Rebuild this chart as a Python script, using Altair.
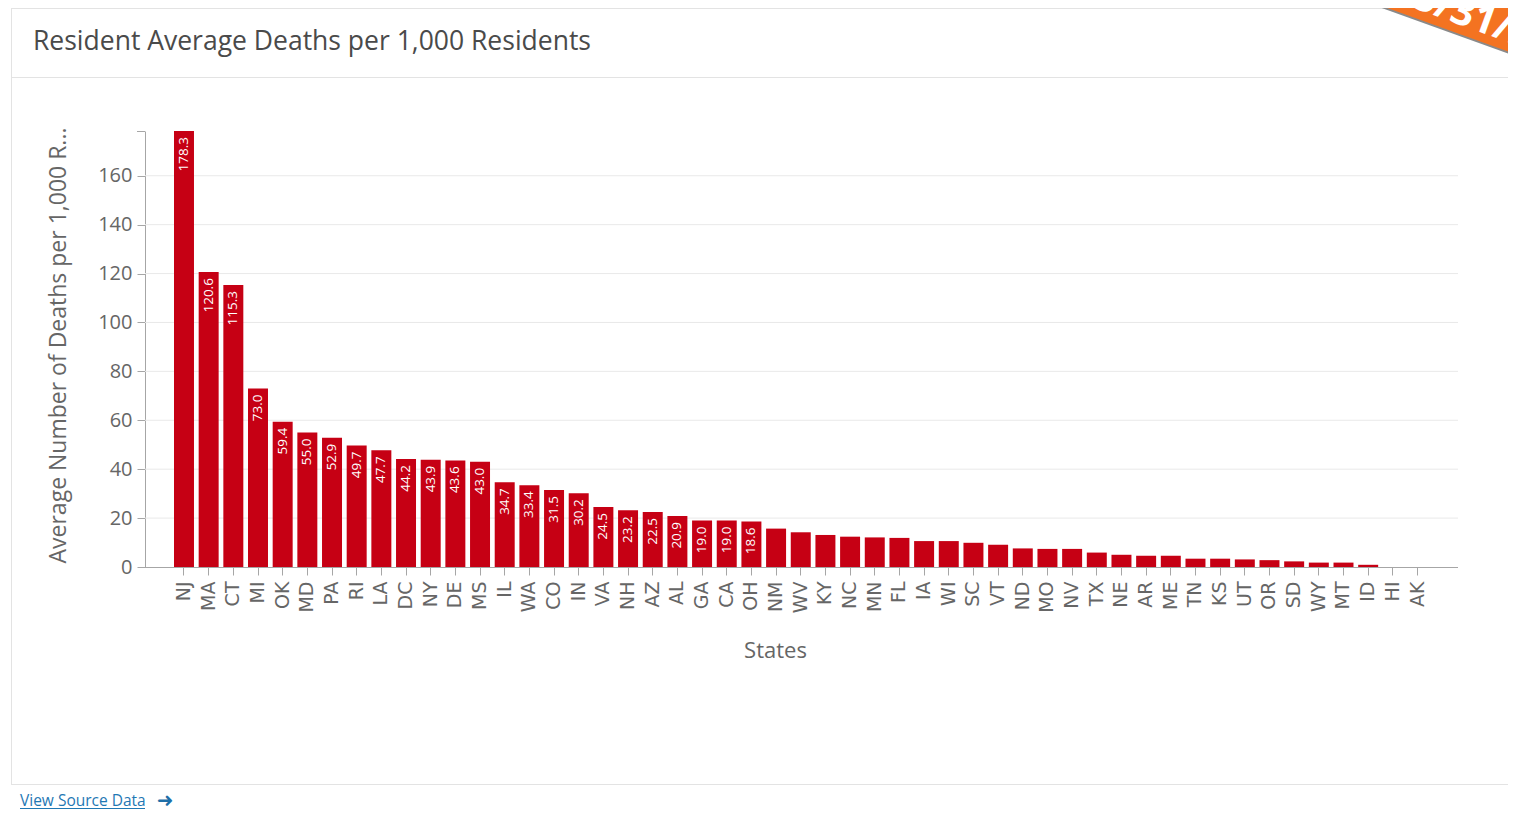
import altair as alt
import pandas as pd

states = ["NJ", "MA", "CT", "MI", "OK", "MD", "PA", "RI", "LA", "DC",
          "NY", "DE", "MS", "IL", "WA", "CO", "IN", "VA", "NH", "AZ",
          "AL", "GA", "CA", "OH", "NM", "WV", "KY", "NC", "MN", "FL",
          "IA", "WI", "SC", "VT", "ND", "MO", "NV", "TX", "NE", "AR",
          "ME", "TN", "KS", "UT", "OR", "SD", "WY", "MT", "ID", "HI", "AK"]
values = [178.3, 120.6, 115.3, 73.0, 59.4, 55.0, 52.9, 49.7, 47.7, 44.2,
          43.9, 43.6, 43.0, 34.7, 33.4, 31.5, 30.2, 24.5, 23.2, 22.5,
          20.9, 19.0, 19.0, 18.6, 15.7, 14.2, 13.1, 12.4, 12.1, 11.9,
          10.6, 10.6, 9.9, 9.1, 7.6, 7.4, 7.4, 5.9, 5.0, 4.6,
          4.6, 3.4, 3.4, 3.1, 2.8, 2.3, 1.8, 1.8, 0.9, 0.0, 0.0]
y_ticks = [0, 20, 40, 60, 80, 100, 120, 140, 160]

chart_title = "Resident Average Deaths per 1,000 Residents"
y_title = "Average Number of Deaths per 1,000 R..."
x_title = "States"
link_text = "View Source Data"
banner_text = "5/31/2020"

df = pd.DataFrame({"State": states, "Value": values})
grid_df = pd.DataFrame({"tick": y_ticks[1:]})
one = pd.DataFrame({"k": [0]})

BAR = "#c60014"
FONT = "Open Sans"
AXIS = "#a6a6a6"
W, H = 1313, 436

x_enc = alt.X("State:N", sort=None,
              scale=alt.Scale(paddingInner=0.19, paddingOuter=0, range=[29, 1282.5]),
              axis=alt.Axis(title=x_title, labelAngle=270, labelFont="DejaVu Sans",
                            labelFontSize=19, labelColor="#666666", labelPadding=6,
                            tickSize=8, tickColor=AXIS, domain=False,
                            titleFont=FONT, titleFontSize=22, titleColor="#666666",
                            titleFontWeight="normal", titleX=630, titleY=90,
                            titleAlign="center", titleBaseline="alphabetic"))
y_enc = alt.Y("Value:Q", scale=alt.Scale(domain=[0, 178.3], nice=False, zero=True),
              axis=alt.Axis(title=y_title, values=y_ticks, labelFont=FONT, labelFontSize=20,
                            labelColor="#666666", labelPadding=5, tickSize=8,
                            tickColor=AXIS, domainColor=AXIS, grid=False,
                            titleFont=FONT, titleFontSize=23,
                            titleColor="#666666", titleFontWeight="normal",
                            titleAngle=270, titleX=-80, titleY=214, titleAlign="center",
                            titleBaseline="alphabetic"))

# horizontal gridlines across the full plot width
grid = alt.Chart(grid_df).mark_rule(color="#e9e9e9", strokeWidth=1).encode(
    y=alt.Y("tick:Q", scale=alt.Scale(domain=[0, 178.3], nice=False, zero=True)),
    x=alt.value(0), x2=alt.value(W))

bars = alt.Chart(df).mark_bar(color=BAR).encode(x=x_enc, y=y_enc)

labels = alt.Chart(df).transform_filter("datum.Value >= 18").mark_text(
    angle=270, align="right", baseline="middle", dx=-6, color="white",
    font=FONT, fontSize=13.5
).encode(x=alt.X("State:N", sort=None), y="Value:Q", text=alt.Text("Value:Q", format=".1f"))

# decorations (pixel coords relative to plot origin at page (145,131))
def rule(x, x2, y, y2, color, width=1):
    return alt.Chart(one).mark_rule(color=color, strokeWidth=width).encode(
        x=alt.value(x), x2=alt.value(x2), y=alt.value(y), y2=alt.value(y2))

x_domain = rule(0, W, H + 0.5, H + 0.5, AXIS)
card_top = rule(-134, 1380, -122.5, -122.5, "#e3e3e3")
card_left = rule(-133.5, -133.5, -122.5, 653, "#e3e3e3")
card_sep = rule(-134, 1380, -53.5, -53.5, "#e3e3e3")
card_bottom = rule(-134, 1380, 653.5, 653.5, "#e3e3e3")
top_tick = rule(-8, 0, 0.5, 0.5, AXIS)

title_txt = alt.Chart(one).mark_text(
    text=chart_title, align="left", baseline="alphabetic", font=FONT, fontSize=26.5,
    color="#4a4a4a"
).encode(x=alt.value(-112), y=alt.value(-81))

link = alt.Chart(one).mark_text(
    text=link_text, align="left", baseline="alphabetic", font=FONT, fontSize=15.5,
    color="#1f78b4"
).encode(x=alt.value(-125), y=alt.value(675))
link_ul = rule(-125, 0, 677.5, 677.5, "#1f78b4")
arrow = alt.Chart(one).mark_text(
    text="➜", align="center", baseline="middle", font="DejaVu Sans", fontSize=20,
    color="#1f6fa8"
).encode(x=alt.value(20), y=alt.value(670))

banner_shadow = rule(1165.3, 1485.3, -180.6, -65.4, "#8a8a8a", 60)
banner = rule(1165.3, 1485.3, -182.6, -67.4, "#f47321", 60)
banner_txt = alt.Chart(one).mark_text(
    text=banner_text, align="left", baseline="alphabetic", angle=20, font=FONT,
    fontSize=40, fontWeight="bold", color="white"
).encode(x=alt.value(1266), y=alt.value(-124))

chart = alt.layer(
    card_top, card_left, card_sep, card_bottom, grid,
    bars, labels, x_domain, top_tick, title_txt, link, link_ul, arrow,
    banner_shadow, banner, banner_txt
).properties(
    width=W, height=H,
    autosize=alt.AutoSizeParams(type="none"),
    padding={"left": 137, "top": 123, "right": 50, "bottom": 244},
    background="white"
).configure_view(stroke=None)

chart.save("out.html", embed_options={"renderer": "svg", "actions": False})
